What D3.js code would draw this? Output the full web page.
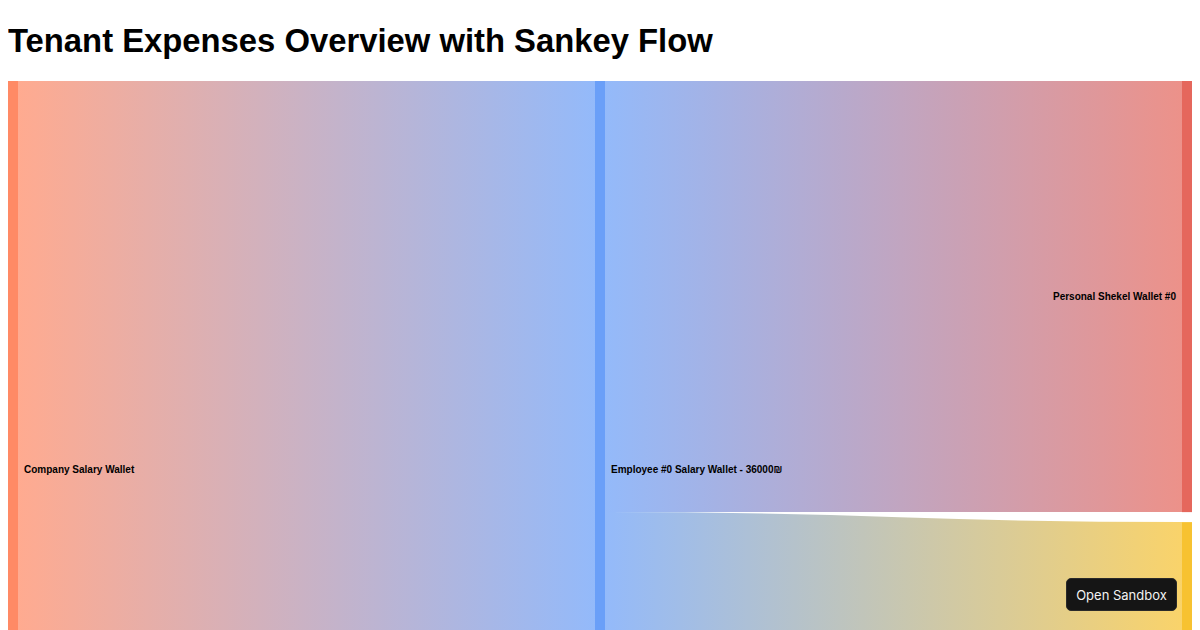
<!DOCTYPE html>
<html>
<head>
<meta charset="utf-8">
<script src="https://cdn.jsdelivr.net/npm/d3@7"></script>
<style>
  html { overflow: hidden; }
  body { margin: 8px; font-family: "Liberation Sans", Arial, Helvetica, sans-serif; background: #fff; }
  h1 { font-size: 32.8px; line-height: 37px; font-weight: bold; margin: 14px 0 22px 0; }
  svg { display: block; }
  .node-label { font-size: 10px; font-weight: bold; fill: #000; }
  #sandbox {
    position: fixed; right: 23px; bottom: 19px; width: 111px; height: 33px;
    background: #151515; color: #f2f2f2; border-radius: 5px; border: 1px solid #2a2a2a;
    box-sizing: border-box; display: flex; align-items: center; justify-content: center;
    font-family: Inter, "Noto Sans", sans-serif; font-size: 13px;
  }
</style>
</head>
<body>
<h1>Tenant Expenses Overview with Sankey Flow</h1>
<div id="chart"></div>
<div id="sandbox">Open Sandbox</div>
<script>
// ---- data ----
const nodeNames = [
  "Company Salary Wallet",
  "Employee #0 Salary Wallet - 36000₪",
  "Personal Shekel Wallet #0",
  "Tenant Expenses #0"
];
const nodeColumns = [0, 1, 2, 2];
const linkSources = [0, 1, 1];
const linkTargets = [1, 2, 3];
const linkValues = [36000, 20000, 16000];
const nodeColors = ["#ff8a65", "#6a9ff8", "#e5675c", "#f7c231"];

// ---- layout ----
const width = 1184, height = 786, nodeWidth = 10, nodePadding = 10;

const nodes = nodeNames.map((name, i) => ({ name, i, col: nodeColumns[i], color: nodeColors[i], inV: 0, outV: 0 }));
const links = linkValues.map((v, i) => ({ source: nodes[linkSources[i]], target: nodes[linkTargets[i]], value: v }));
links.forEach(l => { l.source.outV += l.value; l.target.inV += l.value; });
nodes.forEach(n => n.value = Math.max(n.inV, n.outV));

const columns = d3.groups(nodes, d => d.col).sort((a, b) => a[0] - b[0]).map(d => d[1]);
const nCols = columns.length;
const x = d3.scaleLinear().domain([0, nCols - 1]).range([0, width - nodeWidth]);
const ky = d3.min(columns, c => (height - (c.length - 1) * nodePadding) / d3.sum(c, n => n.value));
const y = d3.scaleLinear().domain([0, 1]).range([0, ky]);

columns.forEach(c => {
  let yy = 0;
  c.forEach(n => {
    n.x0 = x(n.col); n.x1 = n.x0 + nodeWidth;
    n.y0 = yy; n.y1 = yy + y(n.value);
    yy = n.y1 + nodePadding;
  });
});
nodes.forEach(n => {
  let sy = n.y0, ty = n.y0;
  links.filter(l => l.source === n).forEach(l => { l.width = y(l.value); l.y0 = sy + l.width / 2; sy += l.width; });
  links.filter(l => l.target === n).forEach(l => { l.y1 = ty + y(l.value) / 2; ty += y(l.value); });
});

// ---- draw ----
const svg = d3.select("#chart").append("svg").attr("width", width).attr("height", height);
const defs = svg.append("defs");

links.forEach((l, i) => {
  const g = defs.append("linearGradient").attr("id", "grad" + i)
    .attr("gradientUnits", "userSpaceOnUse")
    .attr("x1", l.source.x1).attr("x2", l.target.x0);
  g.append("stop").attr("offset", "0%").attr("stop-color", l.source.color);
  g.append("stop").attr("offset", "100%").attr("stop-color", l.target.color);
});

const linkGen = d3.linkHorizontal().source(d => [d.source.x1, d.y0]).target(d => [d.target.x0, d.y1]);

svg.append("g").attr("fill", "none")
  .selectAll("path").data(links).join("path")
  .attr("d", linkGen)
  .attr("stroke", (d, i) => `url(#grad${i})`)
  .attr("stroke-opacity", 0.72)
  .attr("stroke-width", d => Math.max(1, d.width));

svg.append("g").selectAll("rect").data(nodes).join("rect")
  .attr("x", d => d.x0).attr("y", d => d.y0)
  .attr("width", d => d.x1 - d.x0).attr("height", d => d.y1 - d.y0)
  .attr("fill", d => d.color);

svg.append("g").selectAll("text").data(nodes).join("text")
  .attr("class", "node-label")
  .attr("x", d => d.col === nCols - 1 ? d.x0 - 6 : d.x1 + 6)
  .attr("y", d => (d.y0 + d.y1) / 2)
  .attr("dy", "0.35em")
  .attr("text-anchor", d => d.col === nCols - 1 ? "end" : "start")
  .text(d => d.name);
</script>
</body>
</html>
